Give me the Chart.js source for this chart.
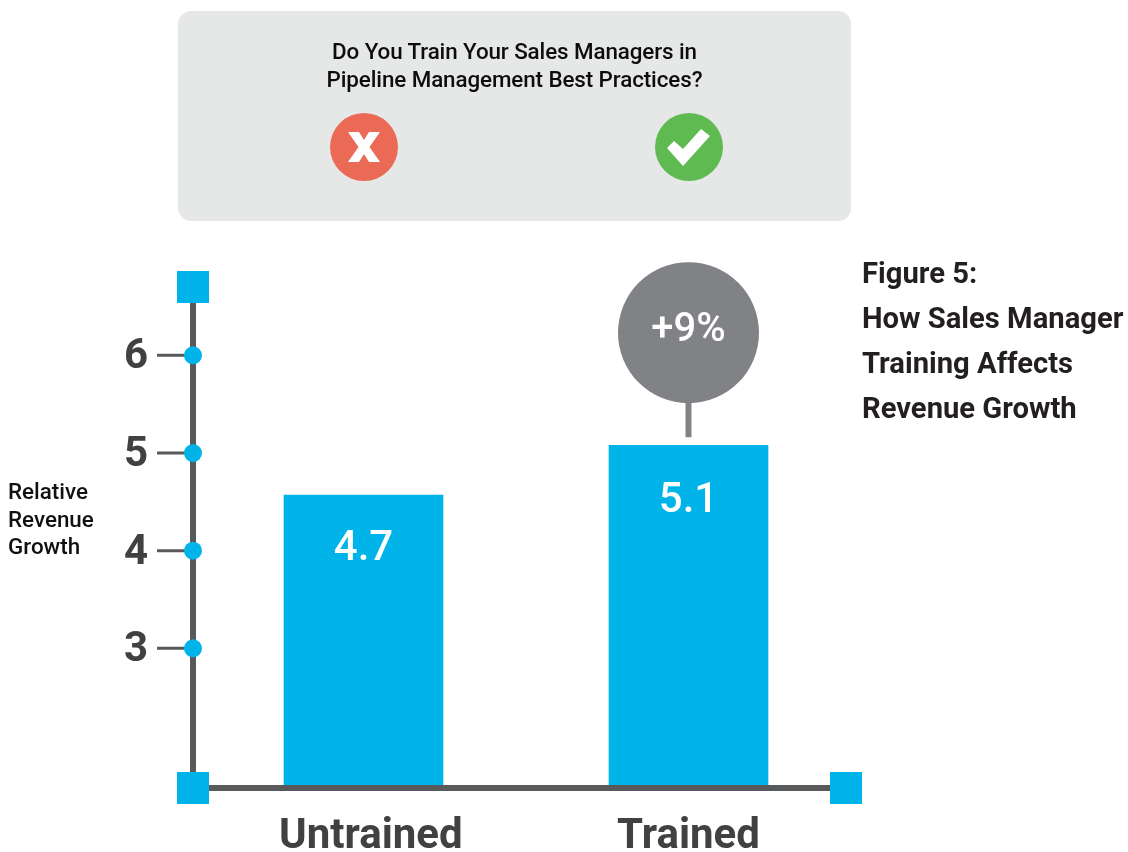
<!DOCTYPE html>
<html><head><meta charset="utf-8">
<script src="https://cdn.jsdelivr.net/npm/chart.js@4"></script>
<style>
html,body{margin:0;padding:0;background:#fff;width:1128px;height:852px;overflow:hidden;font-family:Roboto,sans-serif}
#c{position:absolute;left:0;top:0}
.abs{position:absolute}
#panel{left:178px;top:11px;width:673px;height:210px;background:#e6e8e7;border-radius:13px}
#q{left:178px;width:673px;top:37px;text-align:center;font:500 22.4px/28px Roboto;color:#0d0d0d;letter-spacing:-.1px}
#fig{left:862px;top:251px;font:700 29.2px/45px Roboto;color:#231f20;white-space:nowrap}
#ylab{left:8px;top:478px;font:500 22.4px/27.5px Roboto;color:#111}
</style></head><body>
<canvas id="c" width="1128" height="852"></canvas>
<div class="abs" id="panel"></div>
<div class="abs" id="q">Do You Train Your Sales Managers in<br>Pipeline Management Best Practices?</div>
<svg class="abs" style="left:330px;top:113px" width="68" height="68"><circle cx="34" cy="34" r="34" fill="#ea6a55"/><path d="M18 19h11l5 8 5-8h11l-10.500 15L50 49H39l-5-8-5 8H18l10.500-15z" fill="#fff"/></svg>
<svg class="abs" style="left:655px;top:113px" width="68" height="68"><circle cx="34" cy="34" r="34" fill="#5fba51"/><path d="M12 35l7-7 9 8 18-20 9 7-27 30z" fill="#fff"/></svg>
<div class="abs" id="fig">Figure 5:<br>How Sales Manager<br>Training Affects<br>Revenue Growth</div>
<div class="abs" id="ylab">Relative<br>Revenue<br>Growth</div>
<script>
const categories = ["Untrained", "Trained"];
const barHeights = [4.57, 5.08];
const barLabels = ["4.7", "5.1"];
const tickValues = [3, 4, 5, 6];
const calloutText = "+9%";

const BLUE = "#00b4ea", AXIS = "#58595b", GREY = "#808285";

const decor = {
  id: "decor",
  afterDatasetsDraw(chart) {
    const { ctx, scales: { x, y }, chartArea: a } = chart;
    const meta = chart.getDatasetMeta(0).data;
    const axisX = a.left - 8, base = y.bottom, top = y.top, endX = a.right - 5;
    ctx.save();
    ctx.strokeStyle = AXIS; ctx.lineWidth = 6;
    ctx.beginPath(); ctx.moveTo(axisX, top); ctx.lineTo(axisX, base); ctx.moveTo(axisX, base); ctx.lineTo(endX, base); ctx.stroke();
    tickValues.forEach(v => {
      const py = y.getPixelForValue(v);
      ctx.strokeStyle = AXIS; ctx.lineWidth = 3;
      ctx.beginPath(); ctx.moveTo(axisX - 36, py); ctx.lineTo(axisX, py); ctx.stroke();
      ctx.fillStyle = BLUE;
      ctx.beginPath(); ctx.arc(axisX, py, 9, 0, Math.PI * 2); ctx.fill();
    });
    ctx.fillStyle = BLUE;
    [[axisX, top], [axisX, base], [endX, base]].forEach(([sx, sy]) => ctx.fillRect(sx - 16, sy - 16, 32, 32));
    ctx.fillStyle = "#fff"; ctx.font = "500 42px Roboto"; ctx.textAlign = "center"; ctx.textBaseline = "middle";
    const drops = [54, 56];
    meta.forEach((b, i) => ctx.fillText(barLabels[i], b.x, b.y + drops[i]));
    const t = meta[1];
    ctx.strokeStyle = GREY; ctx.lineWidth = 6;
    ctx.beginPath(); ctx.moveTo(t.x, t.y - 8); ctx.lineTo(t.x, t.y - 50); ctx.stroke();
    ctx.fillStyle = GREY;
    ctx.beginPath(); ctx.arc(t.x, t.y - 112.500, 70.500, 0, Math.PI * 2); ctx.fill();
    ctx.fillStyle = "#fff"; ctx.font = "500 40px Roboto";
    ctx.fillText(calloutText, t.x, t.y - 114);
    ctx.restore();
  }
};

new Chart(document.getElementById("c"), {
  type: "bar",
  data: { labels: categories, datasets: [{ data: barHeights, backgroundColor: BLUE, barThickness: 159, borderWidth: 0 }] },
  options: {
    responsive: false, animation: false,
    layout: { padding: { left: 0, right: 277, top: 287, bottom: 0 } },
    plugins: { legend: { display: false }, tooltip: { enabled: false }, title: { display: false } },
    scales: {
      x: {
        grid: { display: false }, border: { display: false },
        afterFit(s) { s.height = 64; },
        ticks: {
          padding: 16, maxRotation: 0, autoSkip: false, color: "#414042",
          font: { family: "Roboto", size: 42, weight: "700" },
          callback(v, i) { return (i === 0 ? " \u200a" : "") + this.getLabelForValue(v); }
        }
      },
      y: {
        min: 1.57, max: 6.7,
        grid: { display: false, drawTicks: false }, border: { display: false },
        afterFit(s) { s.width = 201; s.paddingTop = 0; s.paddingBottom = 0; },
        afterBuildTicks(s) { s.ticks = tickValues.map(v => ({ value: v })); },
        ticks: { padding: 53, labelOffset: 2.5, color: "#414042", font: { family: "Roboto", size: 42, weight: "700" } }
      }
    }
  },
  plugins: [decor]
});
</script>
</body></html>
